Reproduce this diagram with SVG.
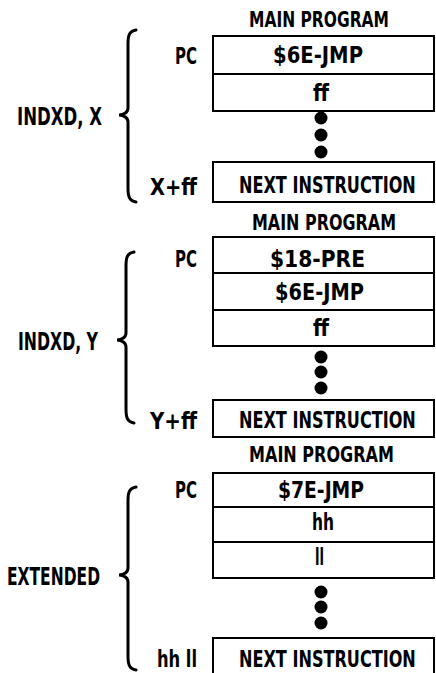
<svg xmlns="http://www.w3.org/2000/svg" width="436" height="673" viewBox="0 0 436 673">
<style>
.t{font-family:"DejaVu Sans Condensed","Liberation Sans Narrow","Liberation Sans",sans-serif;font-weight:bold;font-size:23px;fill:#000}
.h{font-size:21px}
.l{font-size:24px}
.box{fill:#fff;stroke:#000;stroke-width:2}
.brace{fill:none;stroke:#000;stroke-width:3;stroke-linecap:round}
.dot{fill:#000}
</style>
<rect width="436" height="673" fill="#fff"/>
<!-- Section 1: INDXD, X -->
<g id="sec1">
  <text class="t h" x="249" y="27" textLength="140" lengthAdjust="spacingAndGlyphs">MAIN PROGRAM</text>
  <g id="s1-op"><rect class="box" x="213" y="36" width="221" height="38"/><text class="t" x="273" y="63" textLength="90" lengthAdjust="spacingAndGlyphs">$6E-JMP</text></g>
  <g id="s1-ff"><rect class="box" x="213" y="74" width="221" height="37"/><text class="t" x="313" y="101" textLength="16" lengthAdjust="spacingAndGlyphs">ff</text></g>
  <circle class="dot" cx="321" cy="118" r="6.5"/><circle class="dot" cx="321" cy="135" r="6.5"/><circle class="dot" cx="321" cy="152" r="6.5"/>
  <g id="s1-next"><rect class="box" x="213" y="162" width="221" height="40"/><text class="t" transform="translate(239 193) scale(0.8 1)" textLength="221" lengthAdjust="spacingAndGlyphs">NEXT INSTRUCTION</text></g>
  <text class="t" x="175" y="64" textLength="22" lengthAdjust="spacingAndGlyphs">PC</text>
  <text class="t" x="150" y="195" textLength="47" lengthAdjust="spacingAndGlyphs">X+ff</text>
  <text class="t l" x="17" y="125" textLength="85" lengthAdjust="spacingAndGlyphs">INDXD, X</text>
</g>
<!-- Section 2: INDXD, Y -->
<g id="sec2">
  <text class="t h" x="252" y="230" textLength="144" lengthAdjust="spacingAndGlyphs">MAIN PROGRAM</text>
  <g id="s2-pre"><rect class="box" x="213" y="237" width="221" height="36"/><text class="t" x="270" y="267" textLength="95" lengthAdjust="spacingAndGlyphs">$18-PRE</text></g>
  <g id="s2-op"><rect class="box" x="213" y="273" width="221" height="37"/><text class="t" x="275" y="300" textLength="89" lengthAdjust="spacingAndGlyphs">$6E-JMP</text></g>
  <g id="s2-ff"><rect class="box" x="213" y="310" width="221" height="36"/><text class="t" x="313" y="336" textLength="16" lengthAdjust="spacingAndGlyphs">ff</text></g>
  <circle class="dot" cx="321" cy="357" r="6.5"/><circle class="dot" cx="321" cy="372" r="6.5"/><circle class="dot" cx="321" cy="388" r="6.5"/>
  <g id="s2-next"><rect class="box" x="213" y="400" width="221" height="37"/><text class="t" transform="translate(239 428) scale(0.8 1)" textLength="221" lengthAdjust="spacingAndGlyphs">NEXT INSTRUCTION</text></g>
  <text class="t" x="175" y="267" textLength="22" lengthAdjust="spacingAndGlyphs">PC</text>
  <text class="t" x="150" y="429" textLength="47" lengthAdjust="spacingAndGlyphs">Y+ff</text>
  <text class="t l" x="18" y="350" textLength="80" lengthAdjust="spacingAndGlyphs">INDXD, Y</text>
</g>
<!-- Section 3: EXTENDED -->
<g id="sec3">
  <text class="t h" x="249" y="462" textLength="145" lengthAdjust="spacingAndGlyphs">MAIN PROGRAM</text>
  <g id="s3-op"><rect class="box" x="213" y="473" width="221" height="34"/><text class="t" x="278" y="498" textLength="86" lengthAdjust="spacingAndGlyphs">$7E-JMP</text></g>
  <g id="s3-hh"><rect class="box" x="213" y="507" width="221" height="35"/><text class="t" x="312" y="530" textLength="22" lengthAdjust="spacingAndGlyphs">hh</text></g>
  <g id="s3-ll"><rect class="box" x="213" y="542" width="221" height="36"/><text class="t" x="315" y="565" textLength="9" lengthAdjust="spacingAndGlyphs">ll</text></g>
  <circle class="dot" cx="321" cy="592" r="6.5"/><circle class="dot" cx="321" cy="607" r="6.5"/><circle class="dot" cx="321" cy="623" r="6.5"/>
  <g id="s3-next"><rect class="box" x="213" y="638" width="221" height="45"/><text class="t" transform="translate(239 667) scale(0.8 1)" textLength="221" lengthAdjust="spacingAndGlyphs">NEXT INSTRUCTION</text></g>
  <text class="t" x="175" y="498" textLength="22" lengthAdjust="spacingAndGlyphs">PC</text>
  <text class="t" x="157" y="667" textLength="40" lengthAdjust="spacingAndGlyphs">hh ll</text>
  <text class="t l" x="7" y="585" textLength="93" lengthAdjust="spacingAndGlyphs">EXTENDED</text>
</g>
<g id="connectors">
  <path class="brace" d="M136 30 C129 31 128 36 128 44 L128 108 C128 112 124 115 119 115 C124 115 128 118 128 122 L128 188 C128 196 129 201 136 202"/>
  <path class="brace" d="M134 252 C127 253 126 258 126 266 L126 333 C126 337 122 340 117 340 C122 340 126 343 126 347 L126 409 C126 417 127 422 134 423"/>
  <path class="brace" d="M136 487 C129 488 128 493 128 501 L128 568 C128 572 124 575 119 575 C124 575 128 578 128 582 L128 656 C128 664 129 669 136 670"/>
</g>
</svg>
